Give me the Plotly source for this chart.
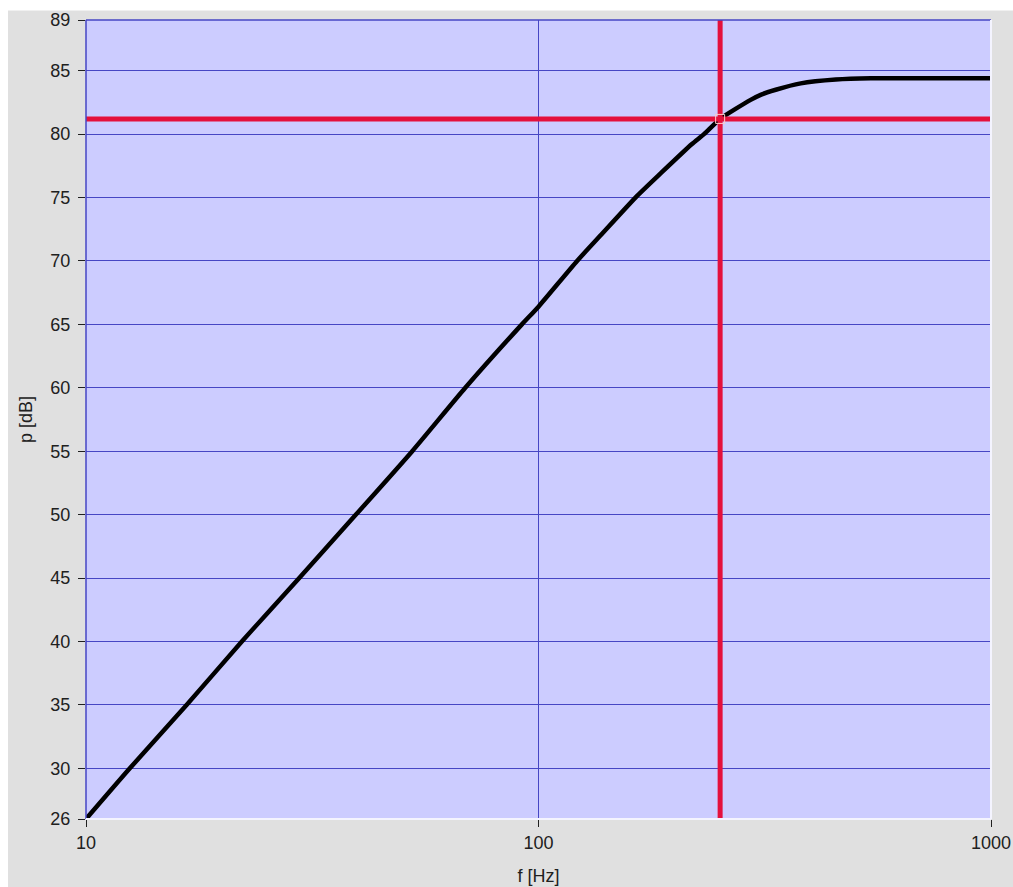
import plotly.graph_objects as go

# Measured response: frequency [Hz] and sound pressure level [dB]
freq_hz = [10.0, 12.5, 16.7, 22.1, 29.6, 39.5, 52.6, 68.9, 91.9, 100.0,
           121.7, 137.0, 163.8, 186.1, 218.0, 232.1, 252.0, 294.3, 309.7,
           334.4, 379.8, 454.0, 542.7, 700.0, 1000.0]
level_db = [26.0, 30.0, 35.0, 40.0, 45.0, 50.0, 55.0, 60.0, 65.0, 66.4,
            70.0, 72.0, 75.0, 76.9, 79.2, 80.0, 81.2, 82.7, 83.1,
            83.5, 84.0, 84.3, 84.4, 84.4, 84.4]

# Cursor position
cursor_f = 252.0
cursor_db = 81.2

x_ticks = [10, 100, 1000]
x_tick_labels = ["10", "100", "1000"]
y_ticks = [26, 30, 35, 40, 45, 50, 55, 60, 65, 70, 75, 80, 85, 89]
y_tick_labels = [str(v) for v in y_ticks]

FONT = "Liberation Sans, Arial, sans-serif"
TXT = "#202020"
GRID = "#4646c4"
CURSOR = "#e4103c"

fig = go.Figure()

fig.add_trace(go.Scatter(
    x=freq_hz, y=level_db, mode="lines",
    line=dict(color="black", width=4.5, shape="spline", smoothing=0.6),
    hoverinfo="skip", showlegend=False,
))

# Cursor cross-hair
fig.add_trace(go.Scatter(
    x=[10, 1000], y=[cursor_db, cursor_db], mode="lines",
    line=dict(color=CURSOR, width=5), showlegend=False, hoverinfo="skip",
))
fig.add_trace(go.Scatter(
    x=[cursor_f, cursor_f], y=[26, 89], mode="lines",
    line=dict(color=CURSOR, width=5), showlegend=False, hoverinfo="skip",
))
fig.add_trace(go.Scatter(
    x=[cursor_f], y=[cursor_db], mode="markers",
    marker=dict(symbol="square-open", size=9, color="#ffc8c8",
                line=dict(width=1, color="#ffc8c8")),
    showlegend=False, hoverinfo="skip",
))

fig.update_xaxes(
    type="log", range=[1, 3],
    tickvals=x_ticks, ticktext=x_tick_labels,
    showgrid=True, gridcolor=GRID, gridwidth=1,
    ticks="outside", ticklen=7, tickcolor=TXT, tickwidth=1,
    zeroline=False, showline=False,
    automargin=False,
    ticklabeloverflow="allow",
    tickfont=dict(family=FONT, size=18, color=TXT),
    title=dict(text="f [Hz]", font=dict(family=FONT, size=18, color=TXT),
               standoff=17),
)
fig.update_yaxes(
    range=[26, 89],
    tickvals=y_ticks, ticktext=y_tick_labels,
    showgrid=True, gridcolor=GRID, gridwidth=1,
    ticks="outside", ticklen=7, tickcolor=TXT, tickwidth=1,
    zeroline=False, showline=False,
    automargin=False,
    ticklabelstandoff=4,
    tickfont=dict(family=FONT, size=18, color=TXT),
    title=dict(text="p [dB]", font=dict(family=FONT, size=18, color=TXT),
               standoff=13),
)

shapes = [
    # light top and left page strips
    dict(type="rect", xref="paper", yref="paper", x0=-0.3, x1=1.2,
         y0=1.0119, y1=1.2, fillcolor="white", line=dict(width=0), layer="below"),
    dict(type="rect", xref="paper", yref="paper", x0=-0.3, x1=-0.0862,
         y0=-0.3, y1=1.2, fillcolor="white", line=dict(width=0), layer="below"),
    # plot frame: dark on left/top, light on right/bottom
    dict(type="line", xref="paper", yref="paper", x0=0, x1=0, y0=0, y1=1,
         line=dict(color=GRID, width=1.5), layer="above"),
    dict(type="line", xref="paper", yref="paper", x0=0, x1=1, y0=1, y1=1,
         line=dict(color=GRID, width=1.5), layer="above"),
    dict(type="line", xref="paper", yref="paper", x0=1, x1=1, y0=0, y1=1,
         line=dict(color="#f4f4ff", width=2), layer="above"),
    dict(type="line", xref="paper", yref="paper", x0=0, x1=1, y0=0, y1=0,
         line=dict(color="#f4f4ff", width=2), layer="above"),
]

fig.update_layout(
    width=1013, height=887,
    margin=dict(l=86, r=22, t=20, b=68),
    paper_bgcolor="#e0e0e0",
    plot_bgcolor="#ccccff",
    shapes=shapes,
    showlegend=False,
)

fig.write_html("out.html")
